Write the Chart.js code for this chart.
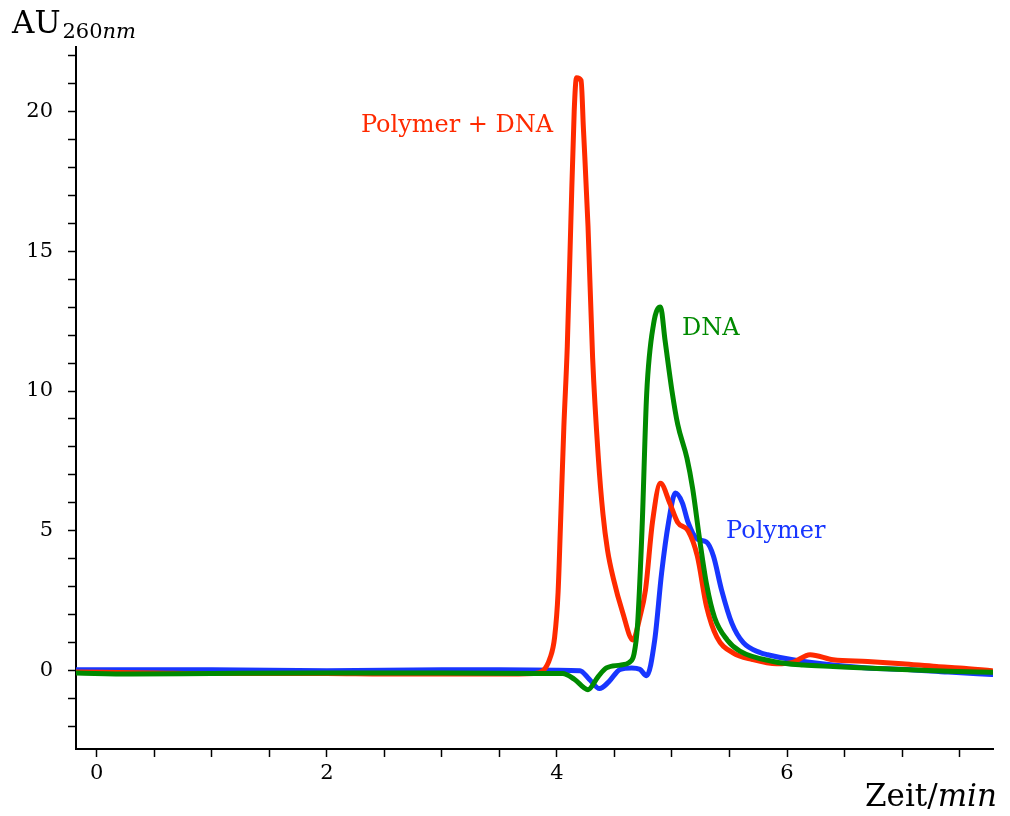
<!DOCTYPE html>
<html lang="de">
<head>
    <meta charset="UTF-8">
    <title>AU 260nm</title>
    <script src="https://cdn.jsdelivr.net/npm/chart.js"></script>
    <style>
        body { margin: 0; background: #fff; }
        #box { width: 1010px; height: 816px; }
    </style>
</head>
<body>
    <div id="box">
        <canvas id="grafico" width="1010" height="816"></canvas>
    </div>

<script>
    // Polymer + DNA (rot)
    var tempo_mix = [-0.18, 0.5, 1.0, 1.5, 2.0, 2.5, 3.0, 3.5, 3.8, 3.88, 3.94, 3.98, 4.01, 4.03, 4.06, 4.09, 4.12, 4.15, 4.17, 4.21, 4.23, 4.27, 4.31, 4.36, 4.40, 4.44, 4.49, 4.57, 4.66, 4.72, 4.77, 4.83, 4.90, 4.98, 5.05, 5.14, 5.22, 5.30, 5.39, 5.53, 5.70, 5.91, 6.05, 6.2, 6.4, 6.7, 7.0, 7.3, 7.5, 7.78]
    var au_mix = [-0.05, -0.08, -0.1, -0.1, -0.1, -0.12, -0.12, -0.12, -0.1, 0, 0.45, 1.2, 2.8, 5.1, 8.7, 11.6, 15.9, 20.0, 21.2, 21.1, 19.4, 15.9, 11.2, 7.6, 5.6, 4.3, 3.3, 2.1, 1.1, 1.9, 2.9, 5.3, 6.7, 6.0, 5.3, 5.0, 4.1, 2.3, 1.2, 0.64, 0.4, 0.25, 0.3, 0.57, 0.39, 0.33, 0.25, 0.15, 0.1, 0.0]

    // Polymer (blau)
    var tempo_polymer = [-0.18, 1, 2, 3, 3.5, 4.0, 4.2, 4.28, 4.37, 4.45, 4.55, 4.65, 4.72, 4.78, 4.85, 4.91, 4.97, 5.03, 5.09, 5.14, 5.22, 5.30, 5.36, 5.43, 5.52, 5.62, 5.77, 5.83, 6.05, 6.4, 6.7, 7.0, 7.4, 7.78]
    var au_polymer = [0.03, 0.03, 0.0, 0.03, 0.03, 0.02, 0.0, -0.3, -0.64, -0.4, 0.05, 0.1, 0.05, -0.18, 1.1, 3.5, 5.3, 6.35, 6.0, 5.3, 4.7, 4.6, 4.1, 2.9, 1.7, 1.0, 0.64, 0.57, 0.39, 0.2, 0.1, 0.05, -0.05, -0.14]

    // DNA (gruen)
    var tempo_dna = [-0.18, 0.3, 1, 2, 3, 3.8, 4.05, 4.15, 4.27, 4.36, 4.43, 4.55, 4.63, 4.67, 4.70, 4.74, 4.78, 4.84, 4.90, 4.94, 5.0, 5.05, 5.13, 5.18, 5.24, 5.30, 5.37, 5.48, 5.59, 5.88, 6.14, 6.4, 7.0, 7.4, 7.78]
    var au_dna = [-0.08, -0.12, -0.1, -0.08, -0.08, -0.1, -0.1, -0.3, -0.68, -0.2, 0.1, 0.2, 0.3, 0.6, 1.6, 5.1, 9.9, 12.4, 13.0, 11.8, 10.0, 8.8, 7.6, 6.5, 4.7, 3.1, 1.9, 1.1, 0.7, 0.33, 0.2, 0.15, 0.04, -0.02, -0.06]

    var rotulos = ["Polymer + DNA", "DNA", "Polymer"]
    var rotulos_x = [2.296, 5.087, 5.47]
    var rotulos_y = [19.25, 12.0, 4.75]
    var rotulos_cor = ["#ff2a00", "#008a00", "#1836ff"]

    function pontos(xs, ys) {
        var lista = []
        for (var i = 0; i < xs.length; i++) {
            lista.push({ x: xs[i], y: ys[i] })
        }
        return lista
    }

    function soPasso(passo) {
        return function (escala) {
            escala.ticks = escala.ticks.filter(function (t) {
                var q = t.value / passo
                return Math.abs(q - Math.round(q)) < 1e-6
            })
        }
    }

    const textos = {
        id: 'textos',
        afterDraw(chart) {
            const ctx = chart.ctx
            const sx = chart.scales.x
            const sy = chart.scales.y
            ctx.save()
            ctx.textBaseline = 'alphabetic'
            ctx.textAlign = 'left'
            ctx.font = '24px "DejaVu Serif"'
            for (var i = 0; i < rotulos.length; i++) {
                ctx.fillStyle = rotulos_cor[i]
                ctx.fillText(rotulos[i], sx.getPixelForValue(rotulos_x[i]), sy.getPixelForValue(rotulos_y[i]))
            }

            // titulos dos eixos
            ctx.fillStyle = '#000'
            ctx.font = '31px "DejaVu Serif"'
            ctx.fillText('AU', 12, 33)
            var w = ctx.measureText('AU').width
            ctx.font = '21px "DejaVu Serif"'
            ctx.fillText('260', 12 + w + 2, 38)
            var w2 = ctx.measureText('260').width
            ctx.font = 'italic 21px "DejaVu Serif"'
            ctx.fillText('nm', 12 + w + 2 + w2, 38)

            ctx.font = '31px "DejaVu Serif"'
            ctx.fillText('Zeit/', 865, 806)
            var w3 = ctx.measureText('Zeit/').width
            ctx.font = 'italic 31px "DejaVu Serif"'
            ctx.fillText('min', 865 + w3, 806)
            ctx.restore()
        }
    }

    const ctx = document.getElementById('grafico').getContext('2d')

    new Chart(ctx, {
        type: 'line',
        data: {
            datasets: [{
                label: 'DNA',
                data: pontos(tempo_dna, au_dna),
                borderColor: '#008a00',
                borderWidth: 5,
                order: 0
            }, {
                label: 'Polymer + DNA',
                data: pontos(tempo_mix, au_mix),
                borderColor: '#ff2a00',
                borderWidth: 5,
                order: 1
            }, {
                label: 'Polymer',
                data: pontos(tempo_polymer, au_polymer),
                borderColor: '#1836ff',
                borderWidth: 5,
                order: 2
            }]
        },
        options: {
            responsive: false,
            animation: false,
            devicePixelRatio: 1,
            layout: {
                padding: { left: 0, top: 47, right: 17, bottom: 0 }
            },
            elements: {
                point: { radius: 0 },
                line: { cubicInterpolationMode: 'monotone', fill: false, borderJoinStyle: 'round', borderCapStyle: 'round' }
            },
            plugins: {
                legend: { display: false },
                tooltip: { enabled: false }
            },
            scales: {
                x: {
                    type: 'linear',
                    min: -0.18,
                    max: 7.79,
                    border: { color: '#000', width: 2 },
                    grid: { drawOnChartArea: false, tickLength: 8, tickColor: '#000', tickWidth: 1.5 },
                    ticks: {
                        stepSize: 0.5,
                        includeBounds: false,
                        autoSkip: false,
                        maxRotation: 0,
                        color: '#000',
                        padding: 4,
                        font: { family: 'DejaVu Serif', size: 21 },
                        callback: function (v) {
                            return Math.abs(v / 2 - Math.round(v / 2)) < 1e-6 ? String(v) : ''
                        }
                    },
                    afterBuildTicks: soPasso(0.5),
                    afterFit: function (s) { s.height = 67 }
                },
                y: {
                    type: 'linear',
                    min: -2.8,
                    max: 22.3,
                    border: { color: '#000', width: 2 },
                    grid: { drawOnChartArea: false, tickLength: 8, tickColor: '#000', tickWidth: 1.5 },
                    ticks: {
                        stepSize: 1,
                        includeBounds: false,
                        autoSkip: false,
                        color: '#000',
                        padding: 15,
                        font: { family: 'DejaVu Serif', size: 21 },
                        callback: function (v) {
                            return Math.abs(v / 5 - Math.round(v / 5)) < 1e-6 ? String(v) : ''
                        }
                    },
                    afterBuildTicks: soPasso(1),
                    afterFit: function (s) { s.width = 76 }
                }
            }
        },
        plugins: [textos]
    })
</script>
</body>
</html>
